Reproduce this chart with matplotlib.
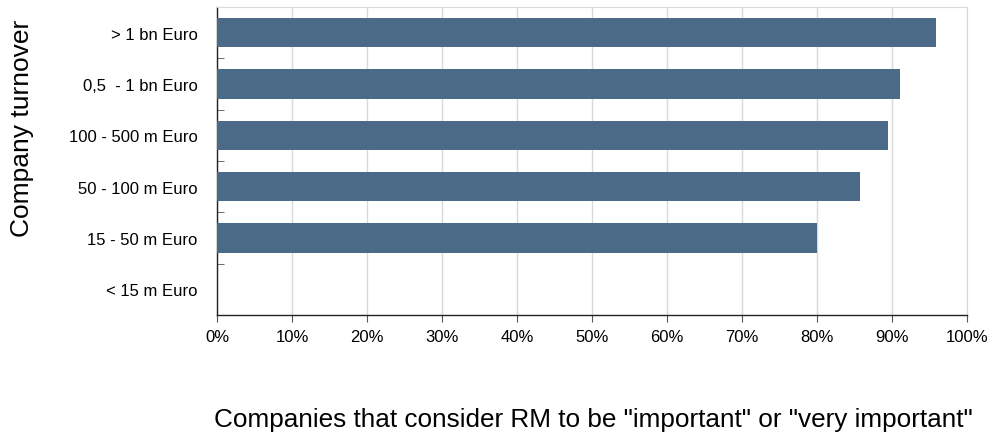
import matplotlib
matplotlib.use("Agg")
import matplotlib.pyplot as plt
from matplotlib.ticker import FixedLocator, PercentFormatter

plt.rcParams['font.family'] = ['Liberation Sans', 'DejaVu Sans']

categories = ["> 1 bn Euro", "0,5  - 1 bn Euro", "100 - 500 m Euro",
              "50 - 100 m Euro", "15 - 50 m Euro", "< 15 m Euro"]
values = [95.8, 91.1, 89.5, 85.7, 80.0, 0.0]
x_ticks = [0, 10, 20, 30, 40, 50, 60, 70, 80, 90, 100]
y_label = "Company turnover"
x_label = 'Companies that consider RM to be "important" or "very important"'

W, H = 993, 439
fig = plt.figure(figsize=(W / 100, H / 100), dpi=100)
ax = fig.add_axes([217 / W, 1 - 316 / H, (967 - 217) / W, (316 - 8) / H])

n = len(categories)
ypos = list(range(n))
ax.barh(ypos, values, height=0.57, color="#4a6a88", zorder=3)
ax.set_ylim(n - 0.5, -0.5)
ax.set_xlim(0, 100)

ax.set_xticks(x_ticks)
ax.xaxis.set_major_formatter(PercentFormatter(decimals=0))
ax.set_yticks(ypos)
ax.set_yticklabels(categories)
ax.yaxis.set_minor_locator(FixedLocator([i + 0.5 for i in range(n - 1)]))
ax.tick_params(axis='y', which='major', length=0, pad=14, labelsize=12)
ax.tick_params(axis='y', which='minor', length=5, direction='in', color='#555555')
ax.tick_params(axis='x', length=5, direction='out', color='#555555', labelsize=12, pad=5)

ax.grid(axis='x', color='#d9d9d9', linewidth=1.0, zorder=0)
ax.set_axisbelow(True)
for s in ['top', 'right']:
    ax.spines[s].set_color('#d9d9d9')
for s in ['left', 'bottom']:
    ax.spines[s].set_color('#222222')
    ax.spines[s].set_linewidth(1.0)

fig.text(22 / W, 1 - 128 / H, y_label, rotation=90, ha='center', va='center', fontsize=19)
fig.text(593 / W, 1 - 420 / H, x_label, ha='center', va='center', fontsize=18.8)

fig.savefig("out.png", dpi=100)
